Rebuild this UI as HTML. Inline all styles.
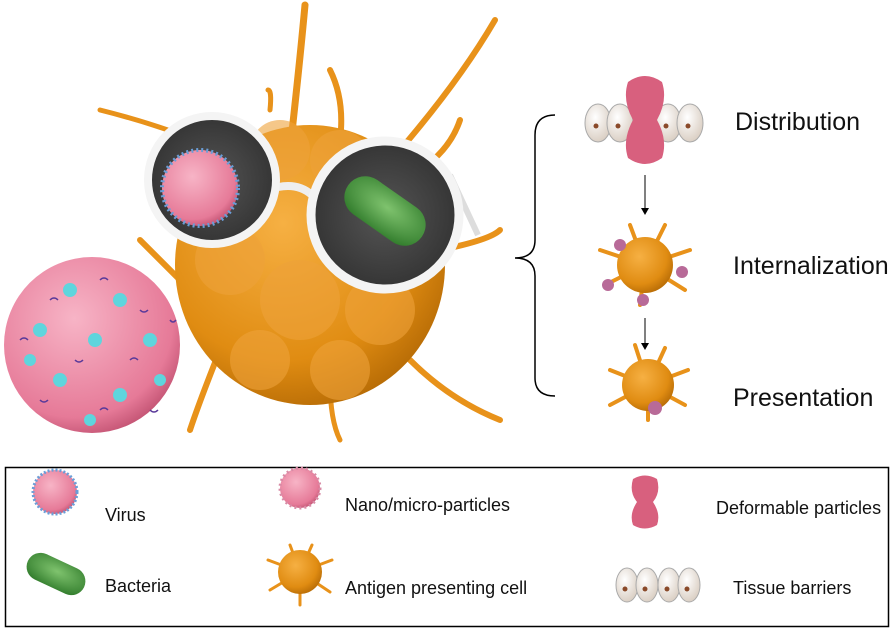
<!DOCTYPE html>
<html><head><meta charset="utf-8"><style>
html,body{margin:0;padding:0;background:#fff;}
body{width:894px;height:630px;overflow:hidden;font-family:"Liberation Sans",sans-serif;}
</style></head><body>
<svg width="894" height="630" viewBox="0 0 894 630" xmlns="http://www.w3.org/2000/svg" font-family="Liberation Sans, sans-serif">
<defs>
<radialGradient id="or" cx="0.4" cy="0.35" r="0.7"><stop offset="0" stop-color="#f6b043"/><stop offset="0.7" stop-color="#e08c12"/><stop offset="1" stop-color="#b56a05"/></radialGradient>
<radialGradient id="pk" cx="0.4" cy="0.35" r="0.7"><stop offset="0" stop-color="#f7b4c6"/><stop offset="0.8" stop-color="#e67a98"/><stop offset="1" stop-color="#c05070"/></radialGradient>
<radialGradient id="gr" cx="0.5" cy="0.4" r="0.7"><stop offset="0" stop-color="#7fc36e"/><stop offset="1" stop-color="#2f7a2a"/></radialGradient>
<radialGradient id="lens" cx="0.5" cy="0.5" r="0.6"><stop offset="0" stop-color="#555"/><stop offset="1" stop-color="#2e2e2e"/></radialGradient>
<radialGradient id="egg" cx="0.4" cy="0.35" r="0.7"><stop offset="0" stop-color="#fff"/><stop offset="1" stop-color="#d8ccc0"/></radialGradient>
</defs>
<g stroke="#e8921a" stroke-linecap="round" fill="none">
<path d="M290 150 Q300 60 305 5" stroke-width="7"/>
<path d="M340 140 Q345 100 330 70" stroke-width="6"/>
<path d="M400 150 Q460 80 495 20" stroke-width="6"/>
<path d="M240 160 Q180 130 100 110" stroke-width="5"/>
<path d="M420 170 Q450 150 460 120" stroke-width="6"/>
<path d="M270 110 Q272 90 268 90" stroke-width="5"/>
<path d="M440 250 Q490 240 500 230" stroke-width="6"/>
<path d="M410 360 Q450 400 500 420" stroke-width="6"/>
<path d="M200 300 Q170 270 140 240" stroke-width="6"/>
<path d="M220 350 Q200 400 190 430" stroke-width="6"/>
<path d="M330 380 Q330 420 340 440" stroke-width="5"/>
</g>
<ellipse cx="310" cy="265" rx="135" ry="140" fill="url(#or)"/>
<g fill="#eea23a" opacity="0.6">
<circle cx="280" cy="150" r="30"/><circle cx="340" cy="160" r="30"/><circle cx="230" cy="260" r="35"/><circle cx="300" cy="300" r="40"/><circle cx="380" cy="310" r="35"/><circle cx="260" cy="360" r="30"/><circle cx="340" cy="370" r="30"/>
</g>
<path d="M268 190 Q295 180 312 195" stroke="#eee" stroke-width="8" fill="none"/>
<path d="M450 175 L478 235" stroke="#ddd" stroke-width="6" fill="none"/>
<circle cx="212" cy="180" r="64" fill="url(#lens)" stroke="#f4f4f4" stroke-width="8"/>
<circle cx="385" cy="215" r="74" fill="url(#lens)" stroke="#f4f4f4" stroke-width="9"/>
<circle cx="200" cy="188" r="38" fill="url(#pk)" stroke="#6a9ed8" stroke-width="4" stroke-dasharray="2 3"/>
<rect x="340" y="190" width="90" height="42" rx="21" transform="rotate(35 385 211)" fill="url(#gr)"/>
<circle cx="92" cy="345" r="88" fill="url(#pk)"/>
<g fill="#5fd5dd">
<circle cx="70" cy="290" r="7"/><circle cx="120" cy="300" r="7"/><circle cx="40" cy="330" r="7"/><circle cx="95" cy="340" r="7"/><circle cx="150" cy="340" r="7"/><circle cx="60" cy="380" r="7"/><circle cx="120" cy="395" r="7"/><circle cx="30" cy="360" r="6"/><circle cx="160" cy="380" r="6"/><circle cx="90" cy="420" r="6"/>
</g>
<g stroke="#5a3a9a" stroke-width="1.5" fill="none">
<path d="M50 300 q4 -4 8 0"/><path d="M100 280 q4 -4 8 0"/><path d="M140 310 q4 4 8 0"/><path d="M20 340 q4 -4 8 0"/><path d="M75 360 q4 4 8 0"/><path d="M130 360 q4 -4 8 0"/><path d="M40 400 q4 4 8 0"/><path d="M100 410 q4 -4 8 0"/><path d="M150 410 q4 4 8 0"/><path d="M170 320 q3 4 6 0"/>
</g>
<path d="M555 115 Q535 115 535 135 L535 240 Q535 258 515 258 Q535 258 535 276 L535 378 Q535 396 555 396" stroke="#000" stroke-width="1.5" fill="none"/>
<g>
<ellipse cx="598" cy="123" rx="13" ry="19" fill="url(#egg)" stroke="#aaa"/><ellipse cx="620" cy="123" rx="13" ry="19" fill="url(#egg)" stroke="#aaa"/>
<ellipse cx="668" cy="123" rx="13" ry="19" fill="url(#egg)" stroke="#aaa"/><ellipse cx="690" cy="123" rx="13" ry="19" fill="url(#egg)" stroke="#aaa"/>
<circle cx="596" cy="126" r="2.5" fill="#8a4a2a"/><circle cx="618" cy="126" r="2.5" fill="#8a4a2a"/><circle cx="666" cy="126" r="2.5" fill="#8a4a2a"/><circle cx="688" cy="126" r="2.5" fill="#8a4a2a"/>
<path d="M628 82 Q645 70 662 82 Q668 100 657 120 Q668 140 662 158 Q645 170 628 158 Q622 140 633 120 Q622 100 628 82Z" fill="#d8607e"/>
</g>
<line x1="645" y1="175" x2="645" y2="210" stroke="#000"/><path d="M641 208 L645 215 L649 208Z"/>
<line x1="645" y1="318" x2="645" y2="345" stroke="#000"/><path d="M641 343 L645 350 L649 343Z"/>
<g stroke="#e8921a" stroke-width="4" stroke-linecap="round" fill="none">
<path d="M645 265 L600 250 M645 265 L690 250 M645 265 L605 285 M645 265 L685 290 M645 265 L630 225 M645 265 L665 225 M645 265 L640 305"/>
<path d="M648 385 L610 370 M648 385 L688 370 M648 385 L610 405 M648 385 L685 405 M648 385 L635 345 M648 385 L665 348 M648 385 L648 420"/>
</g>
<circle cx="645" cy="265" r="28" fill="url(#or)"/>
<circle cx="648" cy="385" r="26" fill="url(#or)"/>
<g fill="#b86a98"><circle cx="620" cy="245" r="6"/><circle cx="682" cy="272" r="6"/><circle cx="608" cy="285" r="6"/><circle cx="643" cy="300" r="6"/><circle cx="655" cy="408" r="7"/></g>
<g font-size="25" fill="#111">
<text x="735" y="130">Distribution</text>
<text x="733" y="274">Internalization</text>
<text x="733" y="406">Presentation</text>
</g>
<rect x="5.5" y="467.5" width="883" height="159" fill="none" stroke="#000" stroke-width="1.5"/>
<circle cx="55" cy="492" r="22" fill="url(#pk)" stroke="#6a9ed8" stroke-width="3" stroke-dasharray="2 2"/>
<rect x="25" y="560" width="62" height="28" rx="14" transform="rotate(25 56 574)" fill="url(#gr)"/>
<circle cx="300" cy="488" r="20" fill="url(#pk)" stroke="#d88aa5" stroke-width="3" stroke-dasharray="2 3"/>
<g stroke="#e8921a" stroke-width="3" stroke-linecap="round"><path d="M300 572 L268 560 M300 572 L332 560 M300 572 L270 590 M300 572 L330 592 M300 572 L290 545 M300 572 L312 545 M300 572 L300 605"/></g>
<circle cx="300" cy="572" r="22" fill="url(#or)"/>
<path d="M633 479 Q645 472 657 479 Q661 492 653 502 Q661 514 657 525 Q645 532 633 525 Q629 514 637 502 Q629 492 633 479Z" fill="#d8607e"/>
<g>
<ellipse cx="627" cy="585" rx="11" ry="17" fill="url(#egg)" stroke="#aaa"/><ellipse cx="647" cy="585" rx="11" ry="17" fill="url(#egg)" stroke="#aaa"/>
<ellipse cx="669" cy="585" rx="11" ry="17" fill="url(#egg)" stroke="#aaa"/><ellipse cx="689" cy="585" rx="11" ry="17" fill="url(#egg)" stroke="#aaa"/>
<circle cx="625" cy="589" r="2.5" fill="#8a4a2a"/><circle cx="645" cy="589" r="2.5" fill="#8a4a2a"/><circle cx="667" cy="589" r="2.5" fill="#8a4a2a"/><circle cx="687" cy="589" r="2.5" fill="#8a4a2a"/>
</g>
<g font-size="18" fill="#111">
<text x="105" y="521">Virus</text>
<text x="105" y="592">Bacteria</text>
<text x="345" y="511">Nano/micro-particles</text>
<text x="345" y="594">Antigen presenting cell</text>
<text x="716" y="514">Deformable particles</text>
<text x="733" y="594">Tissue barriers</text>
</g>
</svg>
</body></html>
